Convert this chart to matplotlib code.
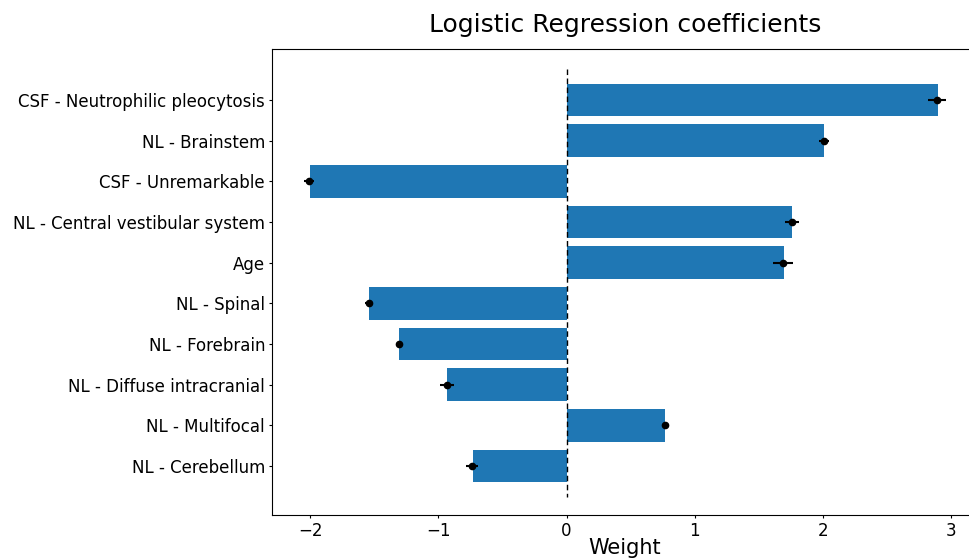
import matplotlib
matplotlib.use("Agg")
import matplotlib.pyplot as plt
import numpy as np

features = [
    "CSF - Neutrophilic pleocytosis",
    "NL - Brainstem",
    "CSF - Unremarkable",
    "NL - Central vestibular system",
    "Age",
    "NL - Spinal",
    "NL - Forebrain",
    "NL - Diffuse intracranial",
    "NL - Multifocal",
    "NL - Cerebellum",
]
coef = [2.90, 2.01, -2.00, 1.76, 1.70, -1.54, -1.31, -0.93, 0.77, -0.73]
coef_mean = [2.89, 2.01, -2.01, 1.76, 1.69, -1.54, -1.31, -0.93, 0.77, -0.74]
coef_std = [0.07, 0.04, 0.04, 0.055, 0.075, 0.03, 0.01, 0.055, 0.02, 0.045]
xticks = [-2, -1, 0, 1, 2, 3]

fig = plt.figure(figsize=(9.69, 5.60), dpi=100)
ax = fig.add_axes([0.2807, 0.0804, 0.74, 0.832])

y = np.arange(len(features))
ax.barh(y, coef, height=0.8, color="#1f77b4")
ax.errorbar(coef_mean, y, xerr=coef_std, fmt="o", color="black",
            markersize=4.5, elinewidth=1.5, capsize=0)
ax.vlines(0, -0.75, len(features) - 0.25, colors="black",
          linestyles=(0, (4, 2.5)), linewidth=1.0)

ax.set_yticks(y)
ax.set_yticklabels(features, fontsize=12.0)
ax.set_xticks(xticks)
ax.set_xticklabels([f"{t}" if t >= 0 else f"\u2212{abs(t)}" for t in xticks],
                   fontsize=12.0)
ax.tick_params(axis="both", length=2.5, pad=2.5)
ax.set_xlim(-2.30, 3.30)
ax.set_ylim(len(features) - 1 + 1.2, -1.25)
ax.spines["right"].set_visible(False)
ax.set_xlabel("Weight", fontsize=15, labelpad=2)
ax.xaxis.set_label_coords(0.4923, -0.05)
ax.xaxis.label.set_verticalalignment("top")
ax.set_title("Logistic Regression coefficients", fontsize=18, pad=12,
             x=0.4923)

fig.savefig("out.png", dpi=100)
